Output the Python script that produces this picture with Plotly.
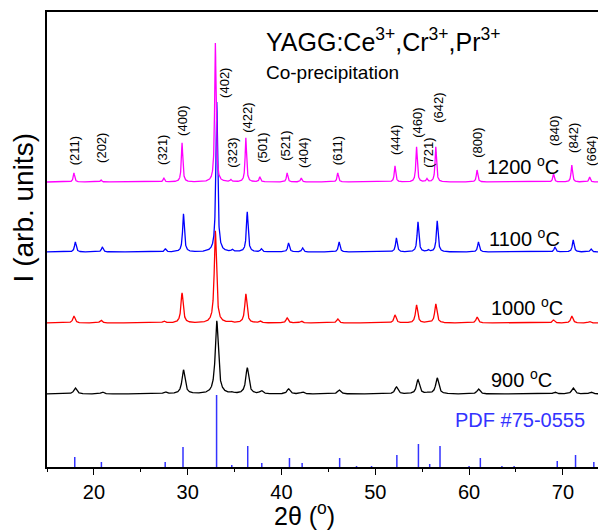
import numpy as np
import plotly.graph_objects as go

# ---- data ----
hkl = ["(211)", "(202)", "(321)", "(400)", "(402)", "(323)", "(422)", "(501)", "(521)", "(404)",
       "(611)", "(444)", "(460)", "(721)", "(642)", "(800)", "(840)", "(842)", "(664)"]
peak_pos = [17.87, 20.75, 27.46, 29.4, 32.95, 34.6, 36.2, 37.7, 40.6, 42.1,
            46.0, 52.1, 54.4, 55.5, 56.45, 60.85, 69.0, 70.95, 72.85]

# peak heights (arb. units) for each calcination temperature
h_1200 = [9, 2, 4, 39, 139, 2, 44, 5, 9, 4, 9, 16, 35, 3, 35, 12, 8, 17, 5]
h_1100 = [10, 5, 3, 38, 150, 2, 40, 3, 9, 4, 10, 14, 30, 2, 31, 10, 5, 12, 3]
h_1000 = [7, 3, 2, 30, 92, 1, 29, 2, 5, 2, 4, 8, 18, 1, 19, 6, 3, 7, 1.5]
h_900 = [6, 2, 2, 24, 73, 1, 26, 3, 5, 2, 4, 7, 14, 1, 16, 5, 2, 6, 2]

series_names = ["1200 <sup>o</sup>C", "1100 <sup>o</sup>C", "1000 <sup>o</sup>C", "900 <sup>o</sup>C"]
series_heights = [h_1200, h_1100, h_1000, h_900]
series_fwhm = [0.18, 0.22, 0.28, 0.38]          # peak widths (deg)
series_shift = [0.0, 0.15, 0.0, 0.15]           # small peak shift (deg)
series_colors = ["#ff00ff", "#0000ff", "#ff0000", "#000000"]
series_offset = [285, 215, 144, 73]             # vertical stacking offsets

# PDF #75-0555 reference lines
pdf_pos = [17.96, 20.8, 27.6, 29.5, 33.08, 34.7, 36.4, 37.9, 40.85, 42.2, 46.2, 48.0, 49.6,
           52.3, 54.6, 55.8, 56.9, 60.0, 61.2, 63.5, 64.8, 69.4, 71.35, 73.3]
pdf_int = [10, 5, 5, 20, 72, 2, 21, 4, 9, 4, 9, 1, 1,
           12, 23, 3, 21, 1, 9, 1, 1, 6, 12, 5]

# peak-label anchors (2theta, height of label bottom)
label_x = [17.97, 20.75, 27.25, 29.38, 33.86, 34.7, 36.3, 37.9, 40.36, 42.28,
           46.0, 52.1, 54.43, 55.6, 56.67, 60.83, 69.04, 71.07, 72.99]
label_y = [300, 302, 300, 329, 367, 297, 332, 302, 304, 297,
           300, 310, 327, 297, 342, 307, 319, 312, 299]

FONT = "Liberation Sans, Arial, sans-serif"

x = np.arange(15.0, 76.0, 0.01)
fig = go.Figure()

for name, hs, w, sh, col, off in zip(series_names, series_heights, series_fwhm,
                                      series_shift, series_colors, series_offset):
    y = np.zeros_like(x)
    for p, h in zip(peak_pos, hs):
        y += h / (1.0 + ((x - (p + sh)) / (w / 2.0)) ** 2)
    fig.add_trace(go.Scatter(x=x, y=y + off, mode="lines",
                             line=dict(color=col, width=1.3), showlegend=False,
                             hoverinfo="skip"))

# reorder so that magenta is drawn on top
fig.data = fig.data[::-1]

sx, sy = [], []
for p, h in zip(pdf_pos, pdf_int):
    sx += [p, p, None]
    sy += [0, h, None]
fig.add_trace(go.Scatter(x=sx, y=sy, mode="lines", line=dict(color="#3333ff", width=1.5),
                         showlegend=False, hoverinfo="skip"))

ann = []
for t, lx, ly in zip(hkl, label_x, label_y):
    ann.append(dict(x=lx, y=ly, text=t, textangle=-90, showarrow=False,
                    xanchor="center", yanchor="bottom",
                    font=dict(family=FONT, size=13, color="black")))

temp_x = [61.7, 61.9, 62.1, 62.1]
temp_y = [302, 230, 161, 89]
for name, tx, ty in zip(series_names, temp_x, temp_y):
    ann.append(dict(x=tx, y=ty, text=name, showarrow=False, xanchor="left", yanchor="middle",
                    font=dict(family=FONT, size=20, color="black")))

ann.append(dict(x=38.1, y=427, text="YAGG:Ce<sup>3+</sup>,Cr<sup>3+</sup>,Pr<sup>3+</sup>",
                showarrow=False, xanchor="left", yanchor="middle",
                font=dict(family=FONT, size=25, color="black")))
ann.append(dict(x=38.1, y=395, text="Co-precipitation", showarrow=False,
                xanchor="left", yanchor="middle",
                font=dict(family=FONT, size=19, color="black")))
ann.append(dict(x=58.3, y=47, text="PDF #75-0555", showarrow=False,
                xanchor="left", yanchor="middle",
                font=dict(family=FONT, size=20, color="#3333ff")))

# axis titles placed as annotations (paper coordinates)
ann.append(dict(x=0.455, xref="paper", y=-0.104, yref="paper", text="2θ (<sup>o</sup>)",
                showarrow=False, xanchor="center", yanchor="middle",
                font=dict(family=FONT, size=25, color="black")))
ann.append(dict(x=-0.041, xref="paper", y=0.57, yref="paper", text="I (arb. units)",
                textangle=-90, showarrow=False, xanchor="center", yanchor="middle",
                font=dict(family=FONT, size=28, color="black")))

fig.update_layout(
    width=606, height=532,
    margin=dict(l=39, r=0, t=4, b=73),
    paper_bgcolor="white", plot_bgcolor="white",
    annotations=ann,
    font=dict(family=FONT, color="black"),
    xaxis=dict(range=[15, 75.45], showline=True, linecolor="black", linewidth=1.5,
               mirror=True, ticks="outside", ticklen=6, tickwidth=1.3, tickcolor="black",
               dtick=10, tick0=0, showgrid=False, zeroline=False,
               tickfont=dict(family=FONT, size=20, color="black"),
               minor=dict(ticks="outside", ticklen=3, dtick=5, tick0=0, tickcolor="black")),
    yaxis=dict(range=[0, 455], showline=True, linecolor="black", linewidth=1.5,
               showticklabels=False, ticks="", showgrid=False, zeroline=False),
)

fig.write_html("out.html")
